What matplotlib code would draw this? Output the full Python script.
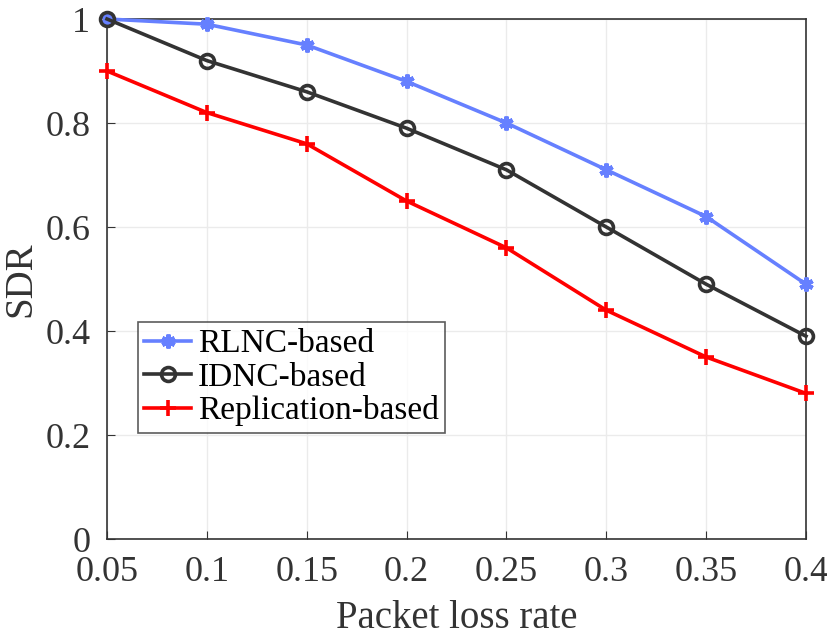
import numpy as np
import matplotlib
matplotlib.use("Agg")
import matplotlib.pyplot as plt

plt.rcParams['font.family'] = ['Liberation Serif', 'DejaVu Serif']

loss_rate = [0.05, 0.1, 0.15, 0.2, 0.25, 0.3, 0.35, 0.4]
rlnc = [1.0, 0.99, 0.95, 0.88, 0.80, 0.71, 0.62, 0.49]
idnc = [1.0, 0.92, 0.86, 0.79, 0.71, 0.60, 0.49, 0.39]
replication = [0.90, 0.82, 0.76, 0.65, 0.56, 0.44, 0.35, 0.28]
xtick_labels = ['0.05', '0.1', '0.15', '0.2', '0.25', '0.3', '0.35', '0.4']
yticks = [0, 0.2, 0.4, 0.6, 0.8, 1]
ytick_labels = ['0', '0.2', '0.4', '0.6', '0.8', '1']

fig = plt.figure(figsize=(8.27, 6.41), dpi=100)
ax = fig.add_axes([107 / 827, 102 / 641, 699 / 827, 520 / 641])

ax.plot(loss_rate, rlnc, color='#6680FF', lw=2.6, marker=(6, 2, 0), ms=10, mew=3,
        label='RLNC-based', clip_on=False, zorder=3)
ax.plot(loss_rate, idnc, color='#333333', lw=2.6, marker='o', ms=10, mew=2.6, mfc='none',
        label='IDNC-based', clip_on=False, zorder=3)
ax.plot(loss_rate, replication, color='#FF0000', lw=2.6, marker='+', ms=12, mew=2.6,
        label='Replication-based', clip_on=False, zorder=3)

ax.set_xlim(0.05, 0.4)
ax.set_ylim(0, 1)
ax.set_xticks(loss_rate)
ax.set_xticklabels(xtick_labels)
ax.set_yticks(yticks)
ax.set_yticklabels(ytick_labels)
ax.grid(True, color='#EBEBEB', lw=1)
ax.set_axisbelow(True)
ax.tick_params(labelsize=26, colors='#333333', direction='in', length=6)
ax.tick_params(axis='x', pad=12)
ax.tick_params(axis='y', pad=12)
for s in ax.spines.values():
    s.set_color('#333333')
    s.set_linewidth(1.2)
ax.set_xlabel('Packet loss rate', fontsize=28, color='#333333', labelpad=8)
ax.set_ylabel('SDR', fontsize=28, color='#333333', labelpad=4)

leg = ax.legend(loc='lower left', bbox_to_anchor=(0.044, 0.204), fontsize=24,
                frameon=True, fancybox=False, edgecolor='#333333', handlelength=1.4,
                borderpad=0.2, labelspacing=0.08, handletextpad=0.2, borderaxespad=0)
leg.get_frame().set_linewidth(1.2)

fig.savefig('out.png', dpi=100)
